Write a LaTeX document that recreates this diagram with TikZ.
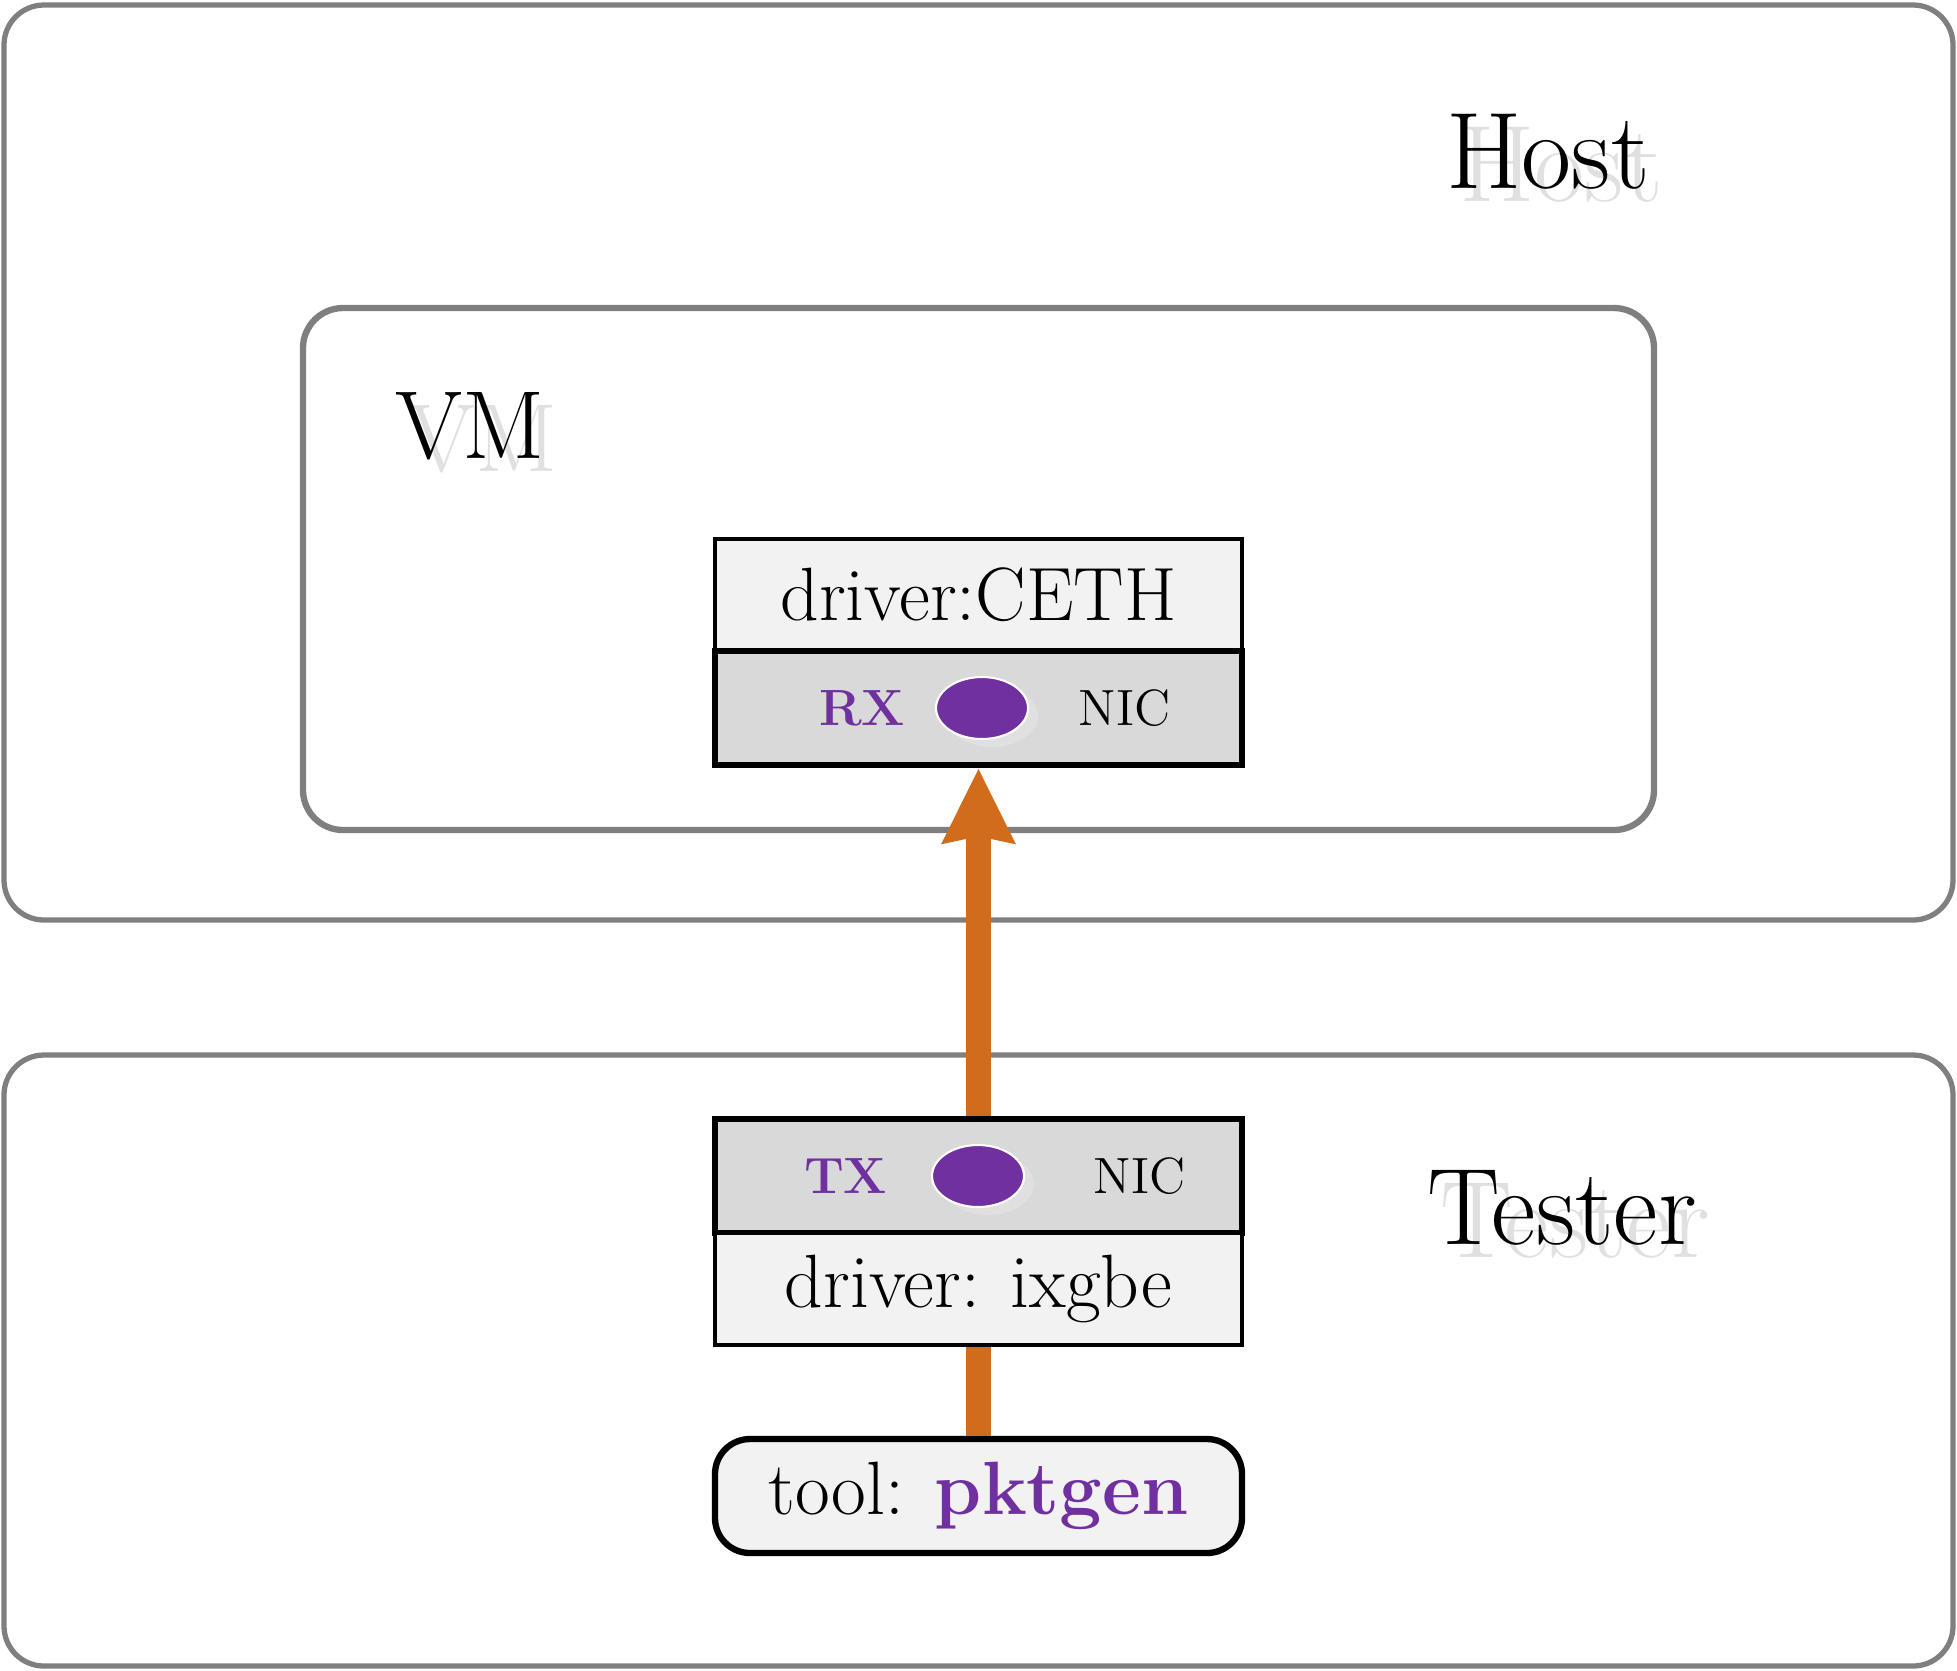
\documentclass[tikz,border=0pt]{standalone}
\usepackage{xcolor}
\usepackage{tikz}
\usetikzlibrary{shapes,positioning,arrows.meta}
\definecolor{boxgray}{RGB}{127,127,127}
\definecolor{nicpurple}{RGB}{112,48,160}
\definecolor{floworange}{RGB}{209,108,28}
\tikzset{outer/.style={draw=boxgray,line width=1.5pt,rounded corners=0.4cm,minimum width=19.49cm},
  layer/.style={draw,line width=1pt,fill=black!5,minimum width=5.27cm,minimum height=1.12cm,font=\fontsize{21.5}{25}\selectfont},
  nic/.style={draw,line width=1.8pt,fill=black!15,minimum width=5.27cm,minimum height=1.14cm},
  port/.style={ellipse,fill=nicpurple,draw=white,line width=0.6pt,minimum width=0.92cm,minimum height=0.62cm,inner sep=0pt},
  portsh/.style={ellipse,fill=black!12,minimum width=0.92cm,minimum height=0.62cm,inner sep=0pt},
  lbl/.style={inner sep=0pt,font=\fontsize{14.5}{17}\selectfont},
  dir/.style={lbl,text=nicpurple,font=\fontsize{14.5}{17}\selectfont\bfseries},
  title/.style={font=\fontsize{31}{36}\selectfont},
  titlesh/.style={title,text=black!12},
  flow/.style={floworange,line width=0.25cm}}

\begin{document}
\begin{tikzpicture}
    \useasboundingbox (0,0) rectangle (19.57,-16.70);
    \node[outer,minimum height=9.15cm] (host)at (9.785,-4.625) {};
    \node[outer,minimum height=6.11cm] (tester)at (9.785,-13.605) {};
    \node[outer,line width=1.8pt,minimum width=13.51cm,minimum height=5.22cm] (vm)at (9.785,-5.69) {};

    \node[titlesh] (hostsh)at (15.61,-1.65) {Host};
    \node[title] (hostlbl)at (15.48,-1.52) {Host};
    \node[titlesh,font=\fontsize{27.5}{32}\selectfont] (vmsh)at (4.83,-4.39) {VM};
    \node[title,font=\fontsize{27.5}{32}\selectfont] (vmlbl)at (4.70,-4.26) {VM};
    \node[titlesh] (testersh)at (15.75,-12.21) {Tester};
    \node[title] (testerlbl)at (15.62,-12.08) {Tester};

    \node[layer] (ceth)at (9.785,-5.95) {driver:CETH};
    \node[nic] (rxnic)at (9.785,-7.08) {};
    \node[portsh] (rxsh)at (9.92,-7.16) {};
    \node[port] (rxport)at (9.82,-7.08) {};
    \node[dir,left=0.29cm of rxport] (rx) {RX};
    \node[lbl,right=0.49cm of rxport] (rxniclbl) {NIC};

    \node[nic] (txnic)at (9.785,-11.76) {};
    \node[portsh] (txsh)at (9.88,-11.84) {};
    \node[port] (txport)at (9.78,-11.76) {};
    \node[dir,left=0.43cm of txport] (tx) {TX};
    \node[lbl,right=0.68cm of txport] (txniclbl) {NIC};
    \node[layer] (ixgbe)at (9.785,-12.89) {driver: ixgbe};

    \node[layer,line width=1.8pt,rounded corners=0.35cm,minimum height=1.14cm] (tool)at (9.785,-14.96) {tool: \textcolor{nicpurple}{\bfseries pktgen}};

    \draw [flow,-{Stealth[length=0.74cm,width=0.7cm,inset=0.06cm]}] (txnic) to []node[]{} (rxnic);
    \draw [flow] (tool) to []node[]{} (ixgbe);
\end{tikzpicture}
\end{document}
